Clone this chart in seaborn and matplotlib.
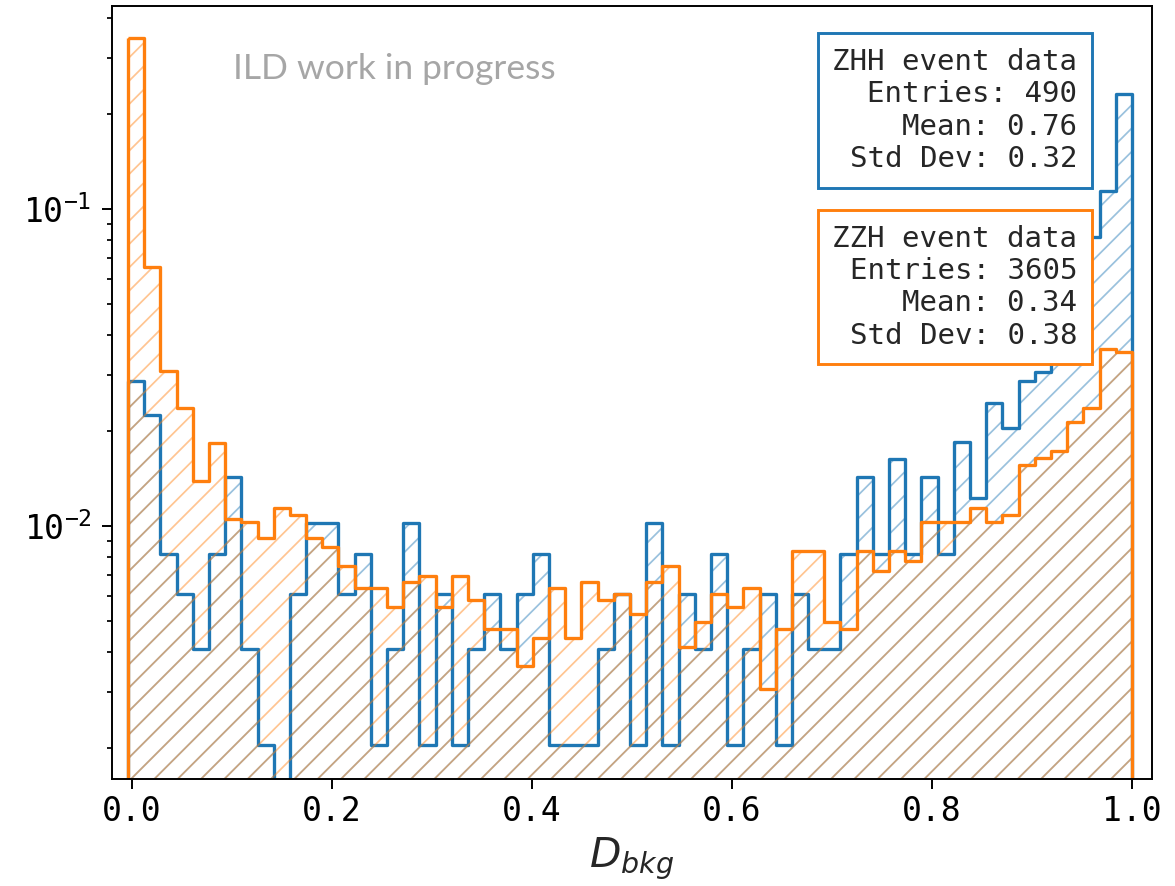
import numpy as np
import pandas as pd
import matplotlib
matplotlib.use("Agg")
import matplotlib.pyplot as plt
import seaborn as sns

# ---------------- data ----------------
BIN_LOW = -0.004
BIN_HIGH = 1.0
N_BINS = 62

# per-bin event counts, ZHH sample (normalised by its entries)
ZHH_COUNTS = [14, 11, 4, 3, 2, 4, 7, 2, 1, 0, 3, 5, 5, 3, 4, 1,
              2, 5, 1, 3, 1, 2, 3, 2, 3, 4, 1, 1, 1, 2, 3,
              1, 5, 1, 3, 2, 4, 1, 2, 3, 1, 3, 2, 2, 4, 7, 4, 8,
              4, 7, 4, 9, 6, 12, 10, 14, 15, 17, 27, 40, 56, 113]
# per-bin event counts, ZZH sample
ZZH_COUNTS = [1246, 237, 111, 85, 50, 66, 38, 37, 33, 41, 39, 33, 31, 27, 23, 23,
              20, 24, 25, 20, 25, 21, 17, 17, 13, 16, 23, 16, 24, 21, 22,
              19, 24, 27, 15, 18, 22, 20, 23, 11, 17, 30, 30, 18, 17, 30, 26, 30,
              28, 37, 37, 37, 41, 37, 39, 56, 59, 62, 77, 85, 130, 128]

SAMPLES = ["ZHH", "ZZH"]
ENTRIES = [490, 3605]
MEANS = [0.76, 0.34]
STDS = [0.32, 0.38]
COLORS = ["#1f77b4", "#ff7f0e"]

X_LABEL = r"$D_{bkg}$"
WATERMARK = "ILD work in progress"

# ---------------- style ----------------
sns.set_style("ticks")
plt.rcParams.update({
    "font.family": ["DejaVu Sans Mono", "DejaVu Sans"],
    "axes.edgecolor": "black",
    "axes.linewidth": 1.0,
    "xtick.color": "black",
    "ytick.color": "black",
    "xtick.major.size": 5.0,
    "ytick.major.size": 5.0,
    "xtick.minor.size": 2.6,
    "ytick.minor.size": 2.6,
    "xtick.major.width": 1.0,
    "ytick.major.width": 1.0,
    "ytick.minor.width": 0.9,
    "hatch.linewidth": 0.9,
    "axes.grid": False,
})

DPI = 140
fig = plt.figure(figsize=(1175 / DPI, 886 / DPI), dpi=DPI)
ax = fig.add_axes([0.0953, 0.1208, 0.8851, 0.8724])

for counts, n_ent, color in zip([ZHH_COUNTS, ZZH_COUNTS], ENTRIES, COLORS):
    edges = np.linspace(BIN_LOW, BIN_HIGH, N_BINS + 1)
    df = pd.DataFrame({"x": 0.5 * (edges[:-1] + edges[1:]),
                       "w": np.asarray(counts, dtype=float) / n_ent})
    rgba_h = matplotlib.colors.to_rgba(color, 0.45)
    # hatched area
    sns.histplot(data=df, x="x", weights="w", bins=N_BINS,
                 binrange=(BIN_LOW, BIN_HIGH), stat="count",
                 element="step", fill=True, color=color, facecolor="none",
                 edgecolor=rgba_h, hatch="//", linewidth=0, ax=ax)
    # outline
    sns.histplot(data=df, x="x", weights="w", bins=N_BINS,
                 binrange=(BIN_LOW, BIN_HIGH), stat="count",
                 element="step", fill=True, color=color, facecolor="none",
                 edgecolor=color, linewidth=1.7, ax=ax)

ax.set_yscale("log")
ax.set_xlim(-0.02, 1.02)
ax.set_ylim(0.001592, 0.437)
ax.set_ylabel("")
ax.set_xlabel(X_LABEL, fontsize=21, labelpad=4)
ax.tick_params(axis="both", which="major", labelsize=17)
ax.tick_params(axis="y", which="major", pad=5.5)
ax.set_xticks([0.0, 0.2, 0.4, 0.6, 0.8, 1.0])

# stat boxes
box_y = [0.9457, 0.7172]
for name, n_ent, mu, sd, color, yy in zip(SAMPLES, ENTRIES, MEANS, STDS, COLORS, box_y):
    txt = f"{name} event data\nEntries: {n_ent}\nMean: {mu:.2f}\nStd Dev: {sd:.2f}"
    ax.text(0.928, yy, txt, transform=ax.transAxes, ha="right", va="top",
            fontsize=15, family="DejaVu Sans Mono", linespacing=1.2,
            bbox=dict(boxstyle="square,pad=0.5", facecolor="white",
                      edgecolor=color, linewidth=1.5), zorder=5)

ax.text(0.116, 0.9056, WATERMARK, transform=ax.transAxes, ha="left",
        va="baseline", fontsize=18.2, family="Lato", color="#a6a6a6", zorder=5)

fig.savefig("out.png", dpi=DPI)
